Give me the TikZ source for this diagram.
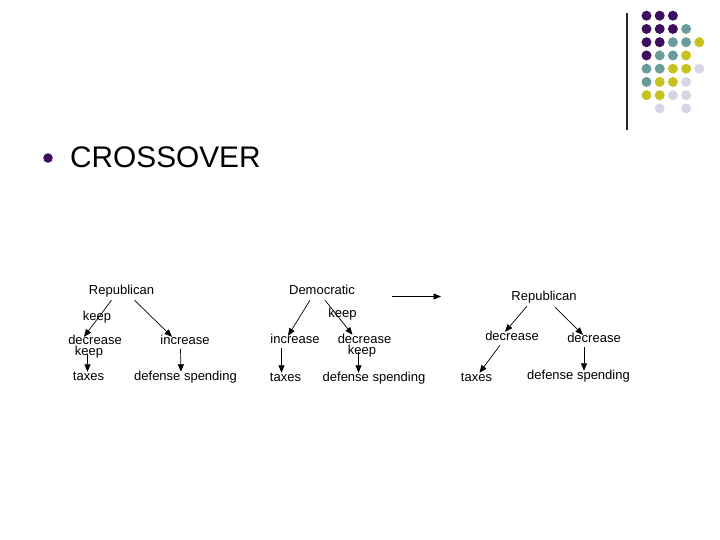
\documentclass[tikz,border=0pt]{standalone}
\usepackage{fontspec}
\setmainfont{Liberation Sans}
\usetikzlibrary{arrows.meta}
\definecolor{dpurple}{HTML}{3F0F5F}
\definecolor{dteal}{HTML}{6A9C9C}
\definecolor{dyellow}{HTML}{C8C21E}
\definecolor{dlav}{HTML}{D6D6E6}
\tikzset{
  lbl/.style={inner sep=0pt, font=\fontsize{13}{13}\selectfont, text height=9.5pt, text depth=2.5pt},
  arr/.style={-{Triangle[length=7.5pt,width=6pt]}, line width=0.7pt},
  dotP/.style={fill=dpurple, draw=none},
  dotT/.style={fill=dteal, draw=none},
  dotY/.style={fill=dyellow, draw=none},
  dotL/.style={fill=dlav, draw=none},
}
\begin{document}
\begin{tikzpicture}[x=1pt,y=-1pt]
\useasboundingbox (0,0) rectangle (720,540);
% dot grid
\foreach \c/\r/\s in {0/0/P,1/0/P,2/0/P,
 0/1/P,1/1/P,2/1/P,3/1/T,
 0/2/P,1/2/P,2/2/T,3/2/T,4/2/Y,
 0/3/P,1/3/T,2/3/T,3/3/Y,
 0/4/T,1/4/T,2/4/Y,3/4/Y,4/4/L,
 0/5/T,1/5/Y,2/5/Y,3/5/L,
 0/6/Y,1/6/Y,2/6/L,3/6/L,
 1/7/L,3/7/L}
 \fill[dot\s] ({646.5+13.2*\c},{15.7+13.25*\r}) circle (5);
\draw[line width=1.2pt, black!85] (627,13) -- (627,130);
% bullet
\fill[dpurple] (48,158) circle (4.8);
\node[anchor=west, inner sep=0pt, font=\fontsize{29.8}{29.8}\selectfont] (title) at (70,157) {CROSSOVER};
% diagram 1
\node[lbl] (r1) at (121.5,291) {Republican};
\node[lbl] (k1) at (97,317) {keep};
\node[lbl] (d1) at (95,341) {decrease};
\node[lbl] (k1b) at (89,352) {keep};
\node[lbl] (i1) at (185,341) {increase};
\node[lbl] (t1) at (88.5,377) {taxes};
\node[lbl] (s1) at (185.5,377) {defense spending};
\draw[arr] ([xshift=-10pt,yshift=-3pt]r1.south) -- ([xshift=-11pt,yshift=-2pt]d1.north);
\draw[arr] ([xshift=13pt,yshift=-3pt]r1.south) -- ([xshift=-13pt,yshift=-2pt]i1.north);
\draw[arr] ([xshift=-7.5pt,yshift=-7pt]d1.south) -- ([xshift=-1pt,yshift=-1pt]t1.north);
\draw[arr] ([xshift=-4.5pt,yshift=-2pt]i1.south) -- ([xshift=-4.5pt,yshift=-1pt]s1.north);
% diagram 2
\node[lbl] (dm) at (322,291) {Democratic};
\node[lbl] (k2) at (342.5,314) {keep};
\node[lbl] (i2) at (295,340) {increase};
\node[lbl] (d2) at (364.5,340) {decrease};
\node[lbl] (k2b) at (362,351) {keep};
\node[lbl] (t2) at (285.5,378) {taxes};
\node[lbl] (s2) at (374,378) {defense spending};
\draw[arr] ([xshift=-12pt,yshift=-3pt]dm.south) -- ([xshift=-7pt,yshift=-2pt]i2.north);
\draw[arr] ([xshift=3pt,yshift=-3pt]dm.south) -- ([xshift=-12pt,yshift=-1pt]d2.north);
\draw[arr] ([xshift=-13.5pt,yshift=-2pt]i2.south) -- ([xshift=-4pt,yshift=-1pt]t2.north);
\draw[arr] ([xshift=-6pt,yshift=-6pt]d2.south) -- ([xshift=-15.5pt,yshift=-1pt]s2.north);
% big arrow
\coordinate (ba) at (391.5,296.5);
\coordinate (bb) at (441,296.5);
\draw[arr] (ba) -- (bb);
% diagram 3
\node[lbl] (r3) at (544,297) {Republican};
\node[lbl] (d3) at (512,337) {decrease};
\node[lbl] (d3b) at (594,339) {decrease};
\node[lbl] (t3) at (476.5,378) {taxes};
\node[lbl] (s3) at (578.5,376) {defense spending};
\draw[arr] ([xshift=-17pt,yshift=-3pt]r3.south) -- ([xshift=-7pt,yshift=-1pt]d3.north);
\draw[arr] ([xshift=11pt,yshift=-4pt]r3.south) -- ([xshift=-11pt,yshift=-2pt]d3b.north);
\draw[arr] ([xshift=-12pt,yshift=-2pt]d3.south) -- ([xshift=3pt,yshift=-1pt]t3.north);
\draw[arr] ([xshift=-10pt,yshift=-2pt]d3b.south) -- ([xshift=5.5pt,yshift=-1pt]s3.north);
\end{tikzpicture}
\end{document}
